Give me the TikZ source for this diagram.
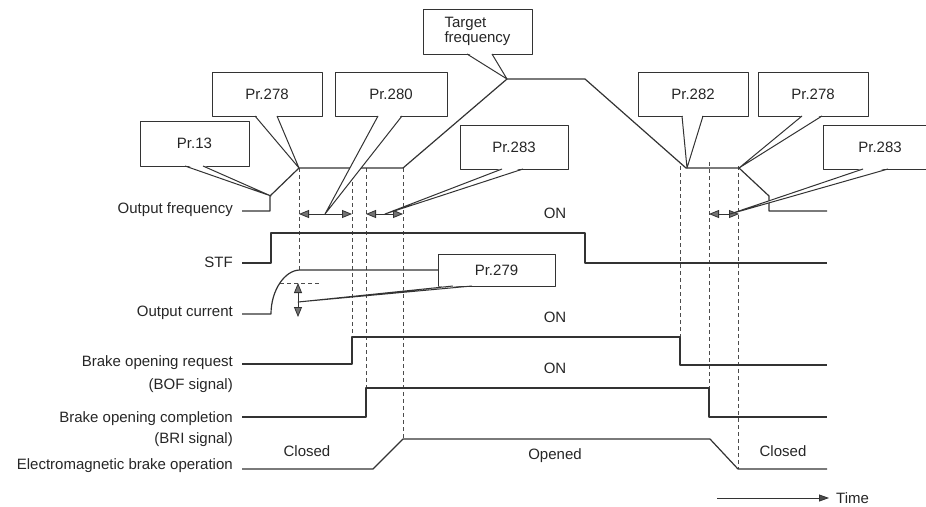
\documentclass[tikz,border=0pt]{standalone}
\usepackage{fontspec}
\setmainfont{Liberation Sans}
\usetikzlibrary{calc,arrows.meta}

\begin{document}
\begin{tikzpicture}[x=1pt, y=-1pt, line join=round,
    sig/.style={line width=1.2pt, draw=black!80},
    guide/.style={line width=0.7pt, draw=black!70, dash pattern=on 4pt off 3pt},
    callout/.style={draw=black!80, line width=1pt, fill=white, inner sep=0pt,
        font=\fontsize{15}{17}\selectfont, text=black!85},
    lbl/.style={font=\fontsize{15}{17}\selectfont, text=black!85, inner sep=0pt},
    span/.style={line width=0.8pt, draw=black!80,
        {Triangle[length=10pt,width=8pt,fill=black!55]}-{Triangle[length=10pt,width=8pt,fill=black!55]}}]

    \useasboundingbox (0,0) rectangle (926,506);

    % signal names
    \node[lbl, anchor=east] (nfreq) at (233,210) {Output frequency};
    \node[lbl, anchor=east] (nstf)  at (233,262) {STF};
    \node[lbl, anchor=east] (ncur)  at (233,313) {Output current};
    \node[lbl, anchor=east] (nbof)  at (233,363) {Brake opening request};
    \node[lbl, anchor=east] (nbof2) at (233,386) {(BOF signal)};
    \node[lbl, anchor=east] (nbri)  at (233,419) {Brake opening completion};
    \node[lbl, anchor=east] (nbri2) at (233,440) {(BRI signal)};
    \node[lbl, anchor=east] (nbrk)  at (233,466) {Electromagnetic brake operation};

    % dashed time marks
    \draw[guide] (299,168) -- (299,270);
    \draw[guide] (352,168) -- (352,337);
    \draw[guide] (366,168) -- (366,388);
    \draw[guide] (403,168) -- (403,439);
    \draw[guide] (680,166) -- (680,337);
    \draw[guide] (709,162) -- (709,388);
    \draw[guide] (738,166) -- (738,469);

    % waveforms
    \draw[sig] (242,211) -- (270,211) -- (270,196) -- (299,168) -- (403,168) -- (507,79)
        -- (585,79) -- (686,168) -- (739,168) -- (769,196) -- (769,211) -- (827,211);
    \draw[sig] (242,263) -- (271,263) -- (271,233) -- (585,233) -- (585,263) -- (827,263);
    \draw[sig] (242,314) -- (271,314) .. controls (271,290) and (285,270) .. (300,270) -- (438,270);
    \draw[sig] (242,364) -- (352,364) -- (352,337) -- (680,337) -- (680,365) -- (827,365);
    \draw[sig] (242,417) -- (366,417) -- (366,388) -- (709,388) -- (709,417) -- (827,417);
    \draw[sig] (242,469) -- (373,469) -- (403,439) -- (710,439) -- (738,469) -- (827,469);

    % current threshold
    \draw[guide] (280,283) -- (320,283);
    \draw[span] (298,283) -- (298,317);

    % time spans
    \draw[span] (299,214) -- (352,214);
    \draw[span] (366,214) -- (403,214);
    \draw[span] (709,214) -- (739,214);

    % callouts
    \foreach \nm/\cx/\cy/\w/\h/\txt/\ba/\bb/\tx/\ty in {
        p13/194.5/143.5/109/45/{Pr.13}/185/203/271/196,
        p278a/267/94/110/44/{Pr.278}/255/277/299/168,
        p280/391/94/112/44/{Pr.280}/378/402/325/214,
        p283a/514/147/108/44/{Pr.283}/502/523/385/214,
        ptgt/477.5/31.5/109/45/{\begin{tabular}{@{}l@{}}Target\\[-2pt]frequency\end{tabular}}/467/492/507/79,
        p282/693/94/110/44/{Pr.282}/682/703/687/168,
        p278b/813/94/110/44/{Pr.278}/802/822/739/168,
        p283b/880/147/114/44/{Pr.283}/863/888/730/214,
        p279/496.5/270/117/32/{Pr.279}/453/472/298/302}
    {
        \node[callout, minimum width=\w pt, minimum height=\h pt] (\nm) at (\cx,\cy) {\txt};
        \coordinate (\nm-a) at (\ba,{\cy+\h/2});
        \coordinate (\nm-b) at (\bb,{\cy+\h/2});
        \coordinate (\nm-tip) at (\tx,\ty);
        \fill[white] ($(\nm-a)+(0.6,-1)$) -- (\nm-tip) -- ($(\nm-b)+(-0.6,-1)$) -- cycle;
        \draw[draw=black!80, line width=1pt] (\nm-a) -- (\nm-tip) -- (\nm-b);
    }

    % state labels
    \node[lbl] (on1) at (555,213) {ON};
    \node[lbl] (on2) at (555,317) {ON};
    \node[lbl] (on3) at (555,368) {ON};
    \node[lbl] (cls1) at (307,451) {Closed};
    \node[lbl] (opn) at (555,456) {Opened};
    \node[lbl] (cls2) at (783,451) {Closed};

    % time axis
    \node[lbl, anchor=west] (time) at (836,498) {Time};
    \coordinate (time0) at (717,498);
    \draw[line width=0.8pt, draw=black!80, -{Triangle[length=10pt,width=7pt,fill=black!70]}]
        (time0) -- ($(time.west)+(-7,0)$);
\end{tikzpicture}
\end{document}
